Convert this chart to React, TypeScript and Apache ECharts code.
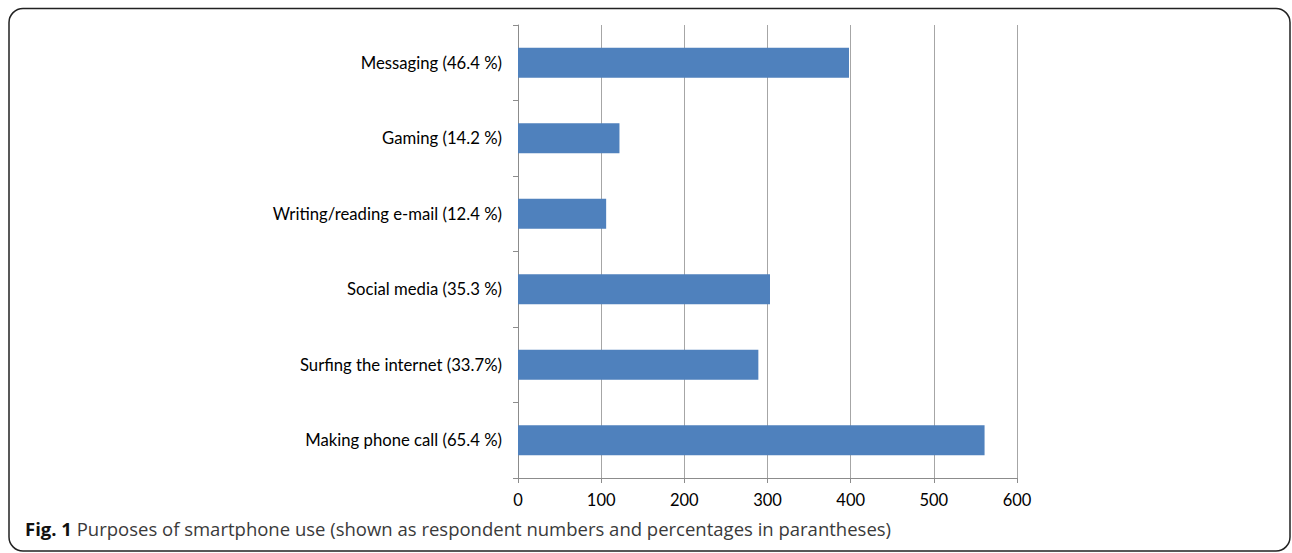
import React, { useEffect, useRef } from "react";
import * as echarts from "echarts";

const categories = [
  "Making phone call (65.4 %)",
  "Surfing the internet (33.7%)",
  "Social media (35.3 %)",
  "Writing/reading e-mail (12.4 %)",
  "Gaming (14.2 %)",
  "Messaging (46.4 %)",
];
const respondents = [561, 289, 303, 106, 122, 398];
const xTicks = { min: 0, max: 600, interval: 100 };
const captionBold = "Fig. 1";
const captionText = " Purposes of smartphone use (shown as respondent numbers and percentages in parantheses)";

export default function App() {
  const ref = useRef<HTMLDivElement>(null);
  useEffect(() => {
    if (!ref.current) return;
    const chart = echarts.init(ref.current, undefined, { renderer: "svg" });
    chart.setOption({
      animation: false,
      backgroundColor: "#ffffff",
      grid: { left: 518, right: 275, top: 25, bottom: 75, containLabel: false },
      xAxis: {
        type: "value",
        min: xTicks.min,
        max: xTicks.max,
        interval: xTicks.interval,
        axisLine: { show: true, lineStyle: { color: "#8c8c8c", width: 1 } },
        axisTick: { show: true, length: 5, lineStyle: { color: "#8c8c8c" } },
        axisLabel: { color: "#000", fontFamily: "Lato", fontSize: 16.5, margin: 13 },
        splitLine: { show: true, lineStyle: { color: "#a6a6a6", width: 1 } },
      },
      yAxis: {
        type: "category",
        data: categories,
        axisLine: { show: true, lineStyle: { color: "#8c8c8c", width: 1 } },
        axisTick: { show: true, length: 5, alignWithLabel: false, lineStyle: { color: "#8c8c8c" } },
        axisLabel: { color: "#000", fontFamily: "Lato", fontSize: 16.7, margin: 16 },
        splitLine: { show: false },
      },
      series: [
        {
          type: "bar",
          data: respondents,
          barWidth: 30,
          itemStyle: { color: "#4f81bd" },
        },
      ],
      graphic: [
        {
          type: "rect",
          shape: { x: 9, y: 8.5, width: 1281, height: 542.5, r: 14 },
          style: { fill: "none", stroke: "#222", lineWidth: 1.5 },
          silent: true,
        },
        {
          type: "text",
          left: 25,
          top: 519,
          style: {
            text: `{b|${captionBold}}{n|${captionText}}`,
            rich: {
              b: { fontFamily: "Open Sans", fontWeight: "bold", fontSize: 18.5, fill: "#111" },
              n: { fontFamily: "Open Sans", fontSize: 18.5, fill: "#3a3a3a" },
            },
          },
        },
      ],
    });
    return () => chart.dispose();
  }, []);
  return (
    <div
      ref={ref}
      style={{ position: "fixed", left: 0, top: 0, width: 1292, height: 553 }}
    />
  );
}
